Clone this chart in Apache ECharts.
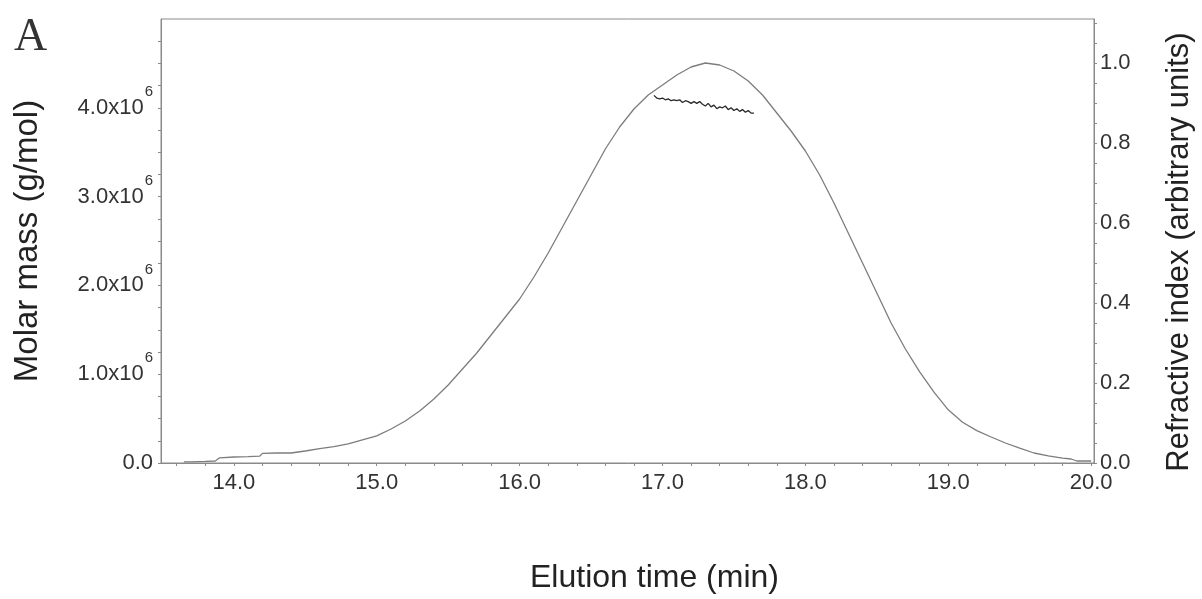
<!DOCTYPE html>
<html>
<head>
<meta charset="utf-8">
<script src="https://cdn.jsdelivr.net/npm/echarts@6/dist/echarts.min.js"></script>
<style>
  html, body { margin: 0; padding: 0; background: #fff; }
  #chart { width: 1202px; height: 599px; }
</style>
</head>
<body>
<div id="chart"></div>
<script>
// elution time (min) for the refractive index trace
const riTime = [13.65, 13.7, 13.8, 13.87, 13.9, 14.0, 14.1, 14.18, 14.2, 14.3, 14.4, 14.5, 14.6, 14.7, 14.8, 14.9,
  15.0, 15.1, 15.2, 15.3, 15.4, 15.5, 15.6, 15.7, 15.8, 15.9, 16.0, 16.1, 16.2, 16.3, 16.4, 16.5,
  16.6, 16.7, 16.8, 16.9, 17.0, 17.1, 17.2, 17.3, 17.4, 17.5, 17.6, 17.7, 17.8, 17.9, 18.0, 18.1,
  18.2, 18.3, 18.4, 18.5, 18.6, 18.7, 18.8, 18.9, 19.0, 19.1, 19.2, 19.3, 19.4, 19.5, 19.6, 19.7,
  19.8, 19.86, 19.9, 20.0];
// refractive index (arbitrary units)
const riValue = [0.003, 0.003, 0.004, 0.005, 0.013, 0.015, 0.016, 0.017, 0.024, 0.025, 0.025, 0.030, 0.036, 0.041, 0.048, 0.058,
  0.068, 0.085, 0.105, 0.13, 0.16, 0.195, 0.235, 0.275, 0.32, 0.365, 0.41, 0.465, 0.525, 0.59, 0.655, 0.72,
  0.785, 0.84, 0.885, 0.92, 0.945, 0.97, 0.99, 1.0, 0.995, 0.98, 0.955, 0.92, 0.875, 0.83, 0.78, 0.72,
  0.65, 0.575, 0.5, 0.425, 0.35, 0.285, 0.228, 0.177, 0.133, 0.102, 0.081, 0.065, 0.05, 0.037, 0.025, 0.018,
  0.012, 0.010, 0.005, 0.005];

// molar mass across the peak
const mmTime = [16.94, 16.96, 16.98, 17.00, 17.02, 17.04, 17.06, 17.08, 17.10, 17.12, 17.14, 17.16,
  17.18, 17.20, 17.22, 17.24, 17.26, 17.28, 17.30, 17.32, 17.34, 17.36, 17.38, 17.40, 17.42, 17.44,
  17.46, 17.48, 17.50, 17.52, 17.54, 17.56, 17.58, 17.60, 17.62, 17.64];
const mmValue = [4.14, 4.11, 4.10, 4.11, 4.09, 4.10, 4.08, 4.09, 4.08, 4.09, 4.06, 4.08,
  4.07, 4.05, 4.07, 4.05, 4.07, 4.04, 4.02, 4.05, 4.01, 4.03, 3.99, 4.01, 4.00, 4.02,
  3.98, 4.00, 3.97, 3.99, 3.96, 3.98, 3.95, 3.97, 3.94, 3.94];

// tick labels
const xLabels = [14, 15, 16, 17, 18, 19, 20];
const xTicks = [13.6, 13.8, 14.0, 14.2, 14.4, 14.6, 14.8, 15.0, 15.2, 15.4, 15.6, 15.8, 16.0, 16.2, 16.4,
  16.6, 16.8, 17.0, 17.2, 17.4, 17.6, 17.8, 18.0, 18.2, 18.4, 18.6, 18.8, 19.0, 19.2, 19.4, 19.6, 19.8, 20.0];
const mmLabels = [0, 1e6, 2e6, 3e6, 4e6];
const mmTicks = [0, 0.25e6, 0.5e6, 0.75e6, 1e6, 1.25e6, 1.5e6, 1.75e6, 2e6, 2.25e6, 2.5e6, 2.75e6,
  3e6, 3.25e6, 3.5e6, 3.75e6, 4e6, 4.25e6, 4.5e6, 4.75e6];
const riLabels = [0, 0.2, 0.4, 0.6, 0.8, 1.0];
const riTicks = [0, 0.05, 0.1, 0.15, 0.2, 0.25, 0.3, 0.35, 0.4, 0.45, 0.5, 0.55, 0.6, 0.65, 0.7, 0.75,
  0.8, 0.85, 0.9, 0.95, 1.0, 1.05, 1.1];

const axisGrey = '#8a8a8a';
const labelFont = 'Liberation Sans, Arial, sans-serif';

const myChart = echarts.init(document.getElementById('chart'));
myChart.setOption({
  animation: false,
  graphic: [{
    type: 'text',
    left: 14,
    top: 15,
    style: {
      text: 'A',
      fontFamily: 'Liberation Serif, Times New Roman, serif',
      fontSize: 46,
      fill: '#333'
    }
  }],
  grid: {
    left: 161,
    right: 108,
    top: 19,
    bottom: 136,
    outerBoundsMode: 'none',
    show: true,
    borderColor: axisGrey,
    borderWidth: 1
  },
  xAxis: {
    type: 'value',
    min: 13.49,
    max: 20.02,
    name: 'Elution time (min)',
    nameLocation: 'middle',
    nameGap: 99,
    nameTextStyle: {
      fontFamily: labelFont,
      fontSize: 32,
      color: '#222',
      padding: [0, 0, 0, 54]
    },
    axisLine: { lineStyle: { color: axisGrey, width: 1 } },
    axisTick: { customValues: xTicks, length: 3, lineStyle: { color: axisGrey } },
    axisLabel: {
      customValues: xLabels,
      margin: 9,
      fontFamily: labelFont,
      fontSize: 22,
      color: '#333',
      formatter: (v) => v.toFixed(1)
    },
    splitLine: { show: false }
  },
  yAxis: [
    {
      type: 'value',
      min: 0,
      max: 5e6,
      position: 'left',
      name: 'Molar mass (g/mol)',
      nameLocation: 'middle',
      nameGap: 117,
      nameTextStyle: {
        fontFamily: labelFont,
        fontSize: 33,
        color: '#222'
      },
      axisLine: { show: true, lineStyle: { color: axisGrey, width: 1 } },
      axisTick: { show: true, customValues: mmTicks, length: 3, lineStyle: { color: axisGrey } },
      axisLabel: {
        customValues: mmLabels,
        margin: 8,
        fontFamily: labelFont,
        fontSize: 22,
        color: '#333',
        formatter: (v) => v === 0 ? '{a|0.0}' : `{a|${(v / 1e6).toFixed(1)}x10}{s|6}`,
        rich: {
          a: { fontFamily: labelFont, fontSize: 22, color: '#333' },
          s: { fontFamily: labelFont, fontSize: 15, color: '#333', padding: [0, 0, 32, 1] }
        }
      },
      splitLine: { show: false }
    },
    {
      type: 'value',
      min: 0,
      max: 1.11,
      position: 'right',
      name: 'Refractive index (arbitrary units)',
      nameLocation: 'middle',
      nameGap: 70,
      nameTextStyle: {
        fontFamily: labelFont,
        fontSize: 31,
        color: '#222',
        padding: [0, 22, 0, 0]
      },
      axisLine: { show: true, lineStyle: { color: axisGrey, width: 1 } },
      axisTick: { show: true, customValues: riTicks, length: 3, lineStyle: { color: axisGrey } },
      axisLabel: {
        customValues: riLabels,
        margin: 6,
        fontFamily: labelFont,
        fontSize: 22,
        color: '#333',
        formatter: (v) => v.toFixed(1)
      },
      splitLine: { show: false }
    }
  ],
  series: [
    {
      name: 'Refractive index',
      type: 'line',
      yAxisIndex: 1,
      showSymbol: false,
      data: riTime.map((t, i) => [t, riValue[i]]),
      lineStyle: { color: '#7d7d7d', width: 1.3 }
    },
    {
      name: 'Molar mass',
      type: 'line',
      yAxisIndex: 0,
      showSymbol: false,
      data: mmTime.map((t, i) => [t, mmValue[i] * 1e6]),
      lineStyle: { color: '#2a2a2a', width: 1.3 }
    }
  ]
});
</script>
</body>
</html>
